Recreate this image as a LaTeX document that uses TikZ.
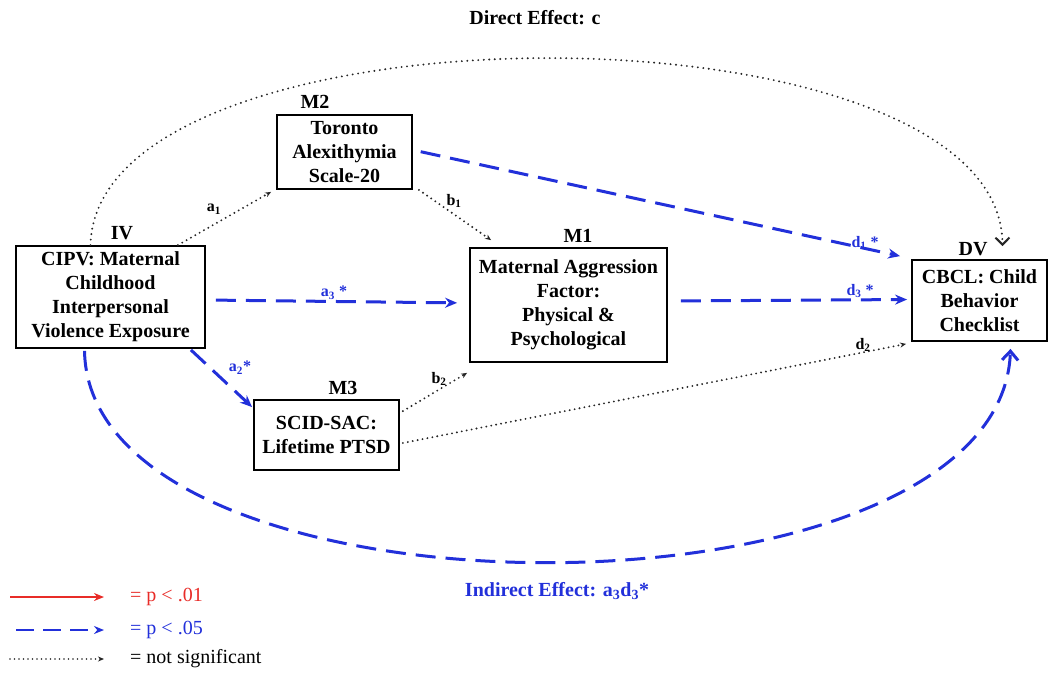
\documentclass[tikz,border=0pt]{standalone}
\usepackage{fontspec}
\setmainfont{Liberation Serif}
\usetikzlibrary{arrows.meta}
\definecolor{sigblue}{RGB}{34,48,218}
\definecolor{sigred}{RGB}{232,44,40}
\tikzset{
  box/.style={draw, line width=1.8pt, font=\bfseries\fontsize{20}{24}\selectfont, align=center, inner sep=2pt},
  toplab/.style={font=\bfseries\fontsize{20}{24}\selectfont, inner sep=1pt},
  edgelab/.style={font=\bfseries\fontsize{16}{19}\selectfont, inner sep=1pt},
  bluelab/.style={edgelab, text=sigblue},
  sig/.style={draw=sigblue, line width=3pt, dash pattern=on 20pt off 10pt, -{Stealth[length=12pt,width=10pt]}},
  ns/.style={draw=black!85, line width=2.1pt, line cap=round, dash pattern=on 0pt off 5pt, -{Stealth[length=6pt,width=5pt]}},
  nscurve/.style={draw=black!85, line width=2.1pt, line cap=round, dash pattern=on 0pt off 5.5pt, -{Straight Barb[length=7pt,width=14pt]}},
  sigcurve/.style={draw=sigblue, line width=3pt, dash pattern=on 20pt off 10pt, -{Straight Barb[length=9pt,width=16pt]}},
  strong/.style={draw=sigred, line width=2.2pt, -{Stealth[length=10pt,width=8pt]}},
  legtext/.style={font=\fontsize{20}{24}\selectfont, anchor=west, inner sep=0pt}
}
\begin{document}
\begin{tikzpicture}[x=1pt,y=-1pt]
\useasboundingbox (0,0) rectangle (1054,675);
% boxes
\node[box, minimum width=189pt, minimum height=102pt] (iv) at (110.5,297) {CIPV: Maternal\\Childhood\\Interpersonal\\Violence Exposure};
\node[box, minimum width=135pt, minimum height=74pt] (m2) at (344.5,152) {Toronto\\Alexithymia\\Scale-20};
\node[box, minimum width=197pt, minimum height=114pt] (m1) at (568.5,305) {Maternal Aggression\\Factor:\\Physical \&\\Psychological};
\node[box, minimum width=145pt, minimum height=70pt] (m3) at (326.5,435) {SCID-SAC:\\Lifetime PTSD};
\node[box, minimum width=135pt, minimum height=81pt] (dv) at (979.5,300.5) {CBCL: Child\\Behavior\\Checklist};
% labels above boxes
\node[toplab] (ivl) at (122,233) {IV};
\node[toplab] (m2l) at (315,102) {M2};
\node[toplab] (m1l) at (578,236) {M1};
\node[toplab] (m3l) at (343,388) {M3};
\node[toplab] (dvl) at (973,249) {DV};
% paths
\draw[ns] ([xshift=-28pt]iv.north east) -- ([xshift=-5pt,yshift=-2pt]m2.south west);
\draw[ns] ([xshift=6pt]m2.south east) -- ([xshift=22pt,yshift=7pt]m1.north west);
\draw[sig, shorten <=8pt] ([yshift=2pt]m2.east) -- ([xshift=-11pt,yshift=3pt]dv.north west);
\draw[sig, shorten <=10pt, shorten >=12pt] ([yshift=-3pt]iv.east) -- ([yshift=2pt]m1.west);
\draw[sig, shorten <=13pt, shorten >=4pt] ([yshift=4pt]m1.east) -- ([yshift=1pt]dv.west);
\draw[sig] ([xshift=-15pt,yshift=-1pt]iv.south east) -- ([xshift=-1pt,yshift=-8pt]m3.north west);
\draw[ns] ([xshift=3pt,yshift=-12pt]m3.north east) -- ([xshift=-2pt,yshift=-10pt]m1.south west);
\draw[ns] ([xshift=3pt,yshift=-8pt]m3.east) -- ([xshift=-5pt,yshift=-2pt]dv.south west);
% curves
\coordinate (cstart) at ([xshift=-20pt]iv.north);
\coordinate (cend) at ([xshift=23pt,yshift=13pt]dv.north);
\draw[nscurve] (cstart) .. controls (96,-4) and (1000,-4) .. (cend);
\coordinate (istart) at ([xshift=-26pt,yshift=-2pt]iv.south);
\coordinate (iend) at ([xshift=31pt,yshift=-7pt]dv.south);
\draw[sigcurve] (istart) .. controls (90,633) and (1000,633) .. (iend);
% edge labels
\node[edgelab] (la1) at (214,209) {a\textsubscript{1}};
\node[edgelab] (lb1) at (454,201) {b\textsubscript{1}};
\node[bluelab] (ld1) at (865,243) {d\textsubscript{1} *};
\node[bluelab] (la3) at (334,293) {a\textsubscript{3} *};
\node[bluelab] (ld3) at (860,291) {d\textsubscript{3} *};
\node[bluelab] (la2) at (240,368) {a\textsubscript{2}*};
\node[edgelab] (lb2) at (439,379) {b\textsubscript{2}};
\node[edgelab] (ld2) at (863,345) {d\textsubscript{2}};
\node[toplab] (direct) at (535,18) {Direct Effect: c};
\node[toplab, text=sigblue] (indirect) at (557,591) {Indirect Effect: a\textsubscript{3}d\textsubscript{3}*};
% legend
\coordinate (r1) at (10,597); \coordinate (r2) at (104,597);
\coordinate (b1) at (16,630); \coordinate (b2) at (104,630);
\coordinate (n1) at (10,659); \coordinate (n2) at (104,659);
\draw[strong] (r1) -- (r2);
\draw[sig, line width=2.6pt, dash pattern=on 18pt off 9pt, -{Stealth[length=10pt,width=8pt]}] (b1) -- (b2);
\draw[ns, line width=1.6pt, dash pattern=on 0pt off 4.5pt] (n1) -- (n2);
\node[legtext, text=sigred] (lt1) at (130,597) {= p < .01};
\node[legtext, text=sigblue] (lt2) at (130,630) {= p < .05};
\node[legtext] (lt3) at (130,659) {= not significant};
\end{tikzpicture}
\end{document}
